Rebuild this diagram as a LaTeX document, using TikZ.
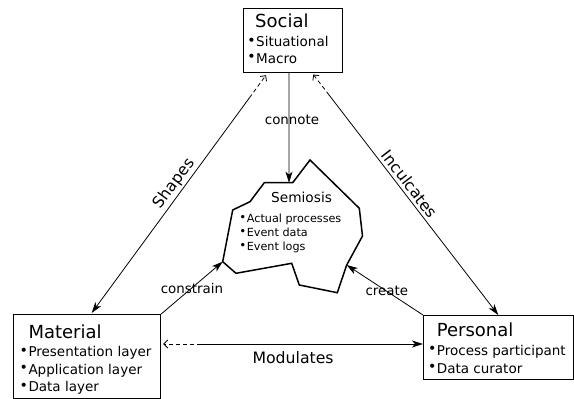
\documentclass[tikz,border=0pt]{standalone}
\usepackage{fontspec}
\setmainfont{DejaVu Sans}
\usetikzlibrary{calc,arrows.meta}
\newcommand{\bul}{\llap{\raisebox{.12em}{\scalebox{1.05}{\textbullet}}\hspace{0.5pt}}}

\begin{document}
\begin{tikzpicture}[x=1pt,y=-1pt,
  box/.style={draw,line width=1.2pt,inner sep=0pt,anchor=north west},
  ttl/.style={inner sep=0pt,anchor=base west,font=\fontsize{18}{20}\selectfont},
  itm/.style={inner sep=0pt,anchor=base west,font=\fontsize{13.5}{16}\selectfont},
  sttl/.style={inner sep=0pt,anchor=base west,font=\fontsize{13.7}{16}\selectfont},
  sitm/.style={inner sep=0pt,anchor=base west,font=\fontsize{11.2}{13}\selectfont},
  lbl/.style={inner sep=1pt,font=\fontsize{13.4}{15}\selectfont},
  blbl/.style={inner sep=1pt,font=\fontsize{15.7}{18}\selectfont},
  arr/.style={line width=0.8pt,-{Stealth[length=11pt,width=7pt,inset=3pt]}},
  darr/.style={line width=0.8pt,dash pattern=on 4pt off 3pt,-{Straight Barb[length=4pt,width=8pt]}}]
\useasboundingbox (0,0) rectangle (574,399);

% Boxes
\node[box,minimum width=99pt,minimum height=64pt] (soc) at (243,8) {};
\node[box,minimum width=147pt,minimum height=84pt] (mat) at (13,314) {};
\node[box,minimum width=150pt,minimum height=64pt] (per) at (423,315) {};

\node[ttl] (socT) at ($(soc.north west)+(12,19.3)$) {Social};
\foreach \t [count=\i] in {Situational,Macro}
  \node[itm] (soc-\i) at ($(soc.north west)+(13,22.1+16.6*\i)$) {\bul\t};

\node[ttl] (matT) at ($(mat.north west)+(15.3,24)$) {Material};
\foreach \t [count=\i] in {Presentation layer,Application layer,Data layer}
  \node[itm] (mat-\i) at ($(mat.north west)+(15.3,25.2+17.5*\i)$) {\bul\t};

\node[ttl] (perT) at ($(per.north west)+(13.7,21)$) {Personal};
\foreach \t [count=\i] in {Process participant,Data curator}
  \node[itm] (per-\i) at ($(per.north west)+(13.7,21.7+18.3*\i)$) {\bul\t};

% Semiosis
\coordinate (s1) at (264.3,182.7);
\coordinate (s2) at (292.7,182.7);
\coordinate (s3) at (310,160);
\coordinate (s4) at (359.3,208.3);
\coordinate (s5) at (362.5,236);
\coordinate (s6) at (346.7,265);
\coordinate (s7) at (337.3,292.7);
\coordinate (s8) at (299.3,285);
\coordinate (s9) at (291.7,263.3);
\coordinate (s10) at (236,273.3);
\coordinate (s11) at (222.7,261.7);
\coordinate (s12) at (232.7,210);
\coordinate (s13) at (250,201.7);
\draw[line width=1.5pt] (s1) -- (s2) -- (s3) -- (s4) -- (s5) -- (s6) -- (s7)
  -- (s8) -- (s9) -- (s10) -- (s11) -- (s12) -- (s13) -- cycle;

\node[sttl] (sem) at (271,202.7) {Semiosis};
\foreach \t [count=\i] in {Actual processes,Event data,Event logs}
  \node[sitm] (sem-\i) at (246.7,208.5+14*\i) {\bul\t};

% connote
\coordinate (socC) at ($(soc.south west)+(46,0)$);
\coordinate (semT) at ($(s1)!0.87!(s2)$);
\draw[arr] (socC) -- (semT) node[lbl,pos=0.47,anchor=base,xshift=3pt] (lconn) {connote};

% Shapes
\coordinate (socL) at ($(soc.south west)+(23,2)$);
\coordinate (matN) at ($(mat.north west)+(78.7,-1)$);
\coordinate (shp) at ($(matN)!0.905!(socL)$);
\draw[arr] (shp) -- (matN);
\draw[darr] (shp) -- (socL);
\path (matN) -- (socL) node[blbl,sloped,above=1pt,pos=0.52] (lshp) {Shapes};

% Inculcates
\coordinate (socR) at ($(soc.south west)+(70.3,1.3)$);
\coordinate (perN) at ($(per.north west)+(75.3,0)$);
\coordinate (inc) at ($(perN)!0.915!(socR)$);
\draw[arr] (inc) -- (perN);
\draw[darr] (inc) -- (socR);
\path (socR) -- (perN) node[blbl,sloped,above=2.5pt,pos=0.48] (linc) {Inculcates};

% Modulates
\coordinate (matE) at ($(mat.north east)+(2,30)$);
\coordinate (perW) at ($(per.north west)+(0,29)$);
\coordinate (mod) at ($(matE)!0.145!(perW)$);
\draw[arr] (mod) -- (perW);
\draw[darr] (mod) -- (matE);
\path (matE) -- (perW) node[blbl,below=6pt,midway] (lmod) {Modulates};

% constrain / create
\draw[arr] (mat.north east) -- (s11) node[lbl,pos=0.5,anchor=base,yshift=-5.5pt] (lcon) {constrain};
\draw[arr] (per.north west) -- (s6) node[lbl,pos=0.5,anchor=base,xshift=2pt,yshift=-5pt] (lcre) {create};
\end{tikzpicture}
\end{document}
